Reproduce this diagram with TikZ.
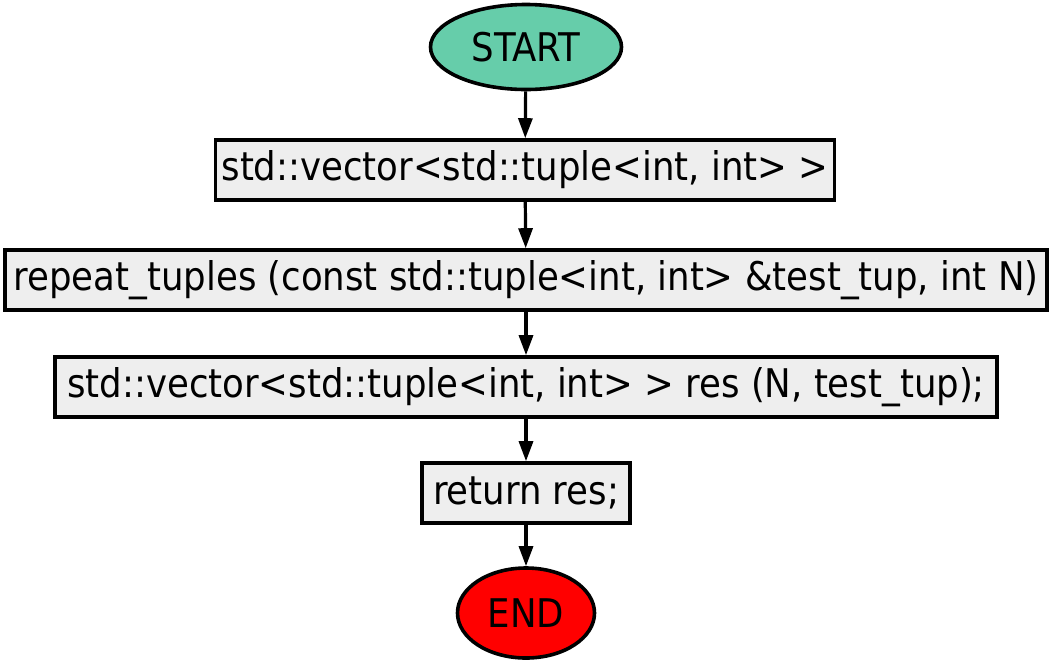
\documentclass[tikz,border=0pt]{standalone}
\usepackage{fontspec}
\setmainfont{DejaVu Sans Condensed}
\usetikzlibrary{shapes.geometric,arrows.meta}
\definecolor{startc}{HTML}{66CDAA}
\definecolor{endc}{HTML}{FF0000}
\definecolor{boxc}{HTML}{EEEEEE}
\tikzset{
  procbox/.style={draw=black,line width=3.6pt,fill=boxc,rectangle,inner sep=0pt,
    font=\fontsize{39.5}{44}\selectfont,text=black},
  term/.style={draw=black,line width=3.6pt,ellipse,inner sep=0pt,
    font=\fontsize{39.5}{44}\selectfont,text=black},
  flow/.style={line width=3.2pt,-{Triangle[length=20pt,width=14pt]}}
}
\begin{document}
\begin{tikzpicture}[x=1pt,y=-1pt]
\useasboundingbox (0,0) rectangle (1052,665);
\node[term,fill=startc,minimum width=191pt,minimum height=85pt] (start) at (526,47) {START};
\node[procbox,minimum width=619pt,minimum height=60pt] (b1) at (525,170) {std::vector<std::tuple<int, int> >};
\node[procbox,minimum width=1042pt,minimum height=60pt] (b2) at (526,280) {repeat\_tuples (const std::tuple<int, int> \&test\_tup, int N)};
\node[procbox,minimum width=942pt,minimum height=60pt] (b3) at (526,387) {std::vector<std::tuple<int, int> > res (N, test\_tup);};
\node[procbox,minimum width=208pt,minimum height=60pt] (b4) at (526,493) {return res;};
\node[term,fill=endc,minimum width=137pt,minimum height=90pt] (end) at (526,613) {END};
\draw[flow] (start) -- (b1);
\draw[flow] (b1) -- (b2);
\draw[flow] (b2) -- (b3);
\draw[flow] (b3) -- (b4);
\draw[flow] (b4) -- (end);
\end{tikzpicture}
\end{document}
